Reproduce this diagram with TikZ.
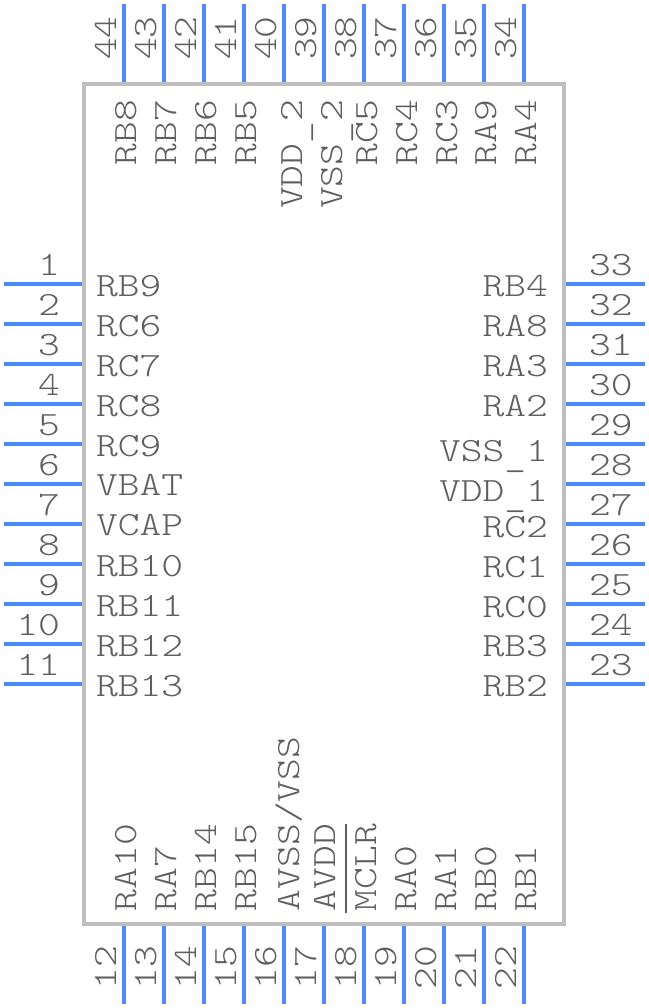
\documentclass[tikz,border=0pt]{standalone}
\usepackage{fontspec}
\newfontfamily\pinfont[FakeStretch=1.22]{Latin Modern Mono Light}
\newcommand\avsslabel{AVSS/VSS}
\newcommand\lowus{\raisebox{-5.5pt}{\_}}
\definecolor{pinblue}{HTML}{4A8CF7}
\definecolor{bodygray}{HTML}{BEBEBE}
\definecolor{txtgray}{HTML}{5F5F5F}
\tikzset{
  pinline/.style={draw=pinblue,line width=4pt},
  bodybox/.style={draw=bodygray,line width=4pt,fill=white},
  lab/.style={inner sep=0pt,outer sep=0pt,text=txtgray,font=\pinfont\fontsize{34}{34}\selectfont},
  labw/.style={lab,anchor=base west},
  labe/.style={lab,anchor=base east},
  rotw/.style={lab,anchor=base west,rotate=90},
  rote/.style={lab,anchor=base east,rotate=90},
}
\begin{document}
\begin{tikzpicture}[x=1pt,y=-1pt]
\useasboundingbox (0,0) rectangle (648,1008);
\node[bodybox,minimum width=480pt,minimum height=840pt,inner sep=0pt,outer sep=0pt,anchor=north west] (body) at (84,84) {};
% left pins
\foreach \n/\ya/\na/\nm/\oy in {1/284/RB9/1/12,2/324/RC6/2/12,3/364/RC7/3/12,4/404/RC8/4/12,5/444/RC9/5/12,6/484/VBAT/6/11,7/524/VCAP/7/11,8/564/RB10/8/12,9/604/RB11/9/12,10/644/RB12/10/12,11/684/RB13/11/12}{
  \coordinate (a\n) at (4,\ya);
  \coordinate (b\n) at (82,\ya);
  \draw[pinline] (a\n) -- (b\n);
  \node[labe] (num\n) at (60,\ya-9) {\nm};
  \node[labw] (name\n) at (96,\ya+\oy) {\na};
}
% right pins
\foreach \n/\ya/\na/\oy in {33/284/RB4/12,32/324/RA8/12,31/364/RA3/12,30/404/RA2/12,29/444/VSS\lowus 1/17,28/484/VDD\lowus 1/17,27/524/RC2/13,26/564/RC1/13,25/604/RC0/13,24/644/RB3/12,23/684/RB2/12}{
  \coordinate (a\n) at (645,\ya);
  \coordinate (b\n) at (566,\ya);
  \draw[pinline] (a\n) -- (b\n);
  \node[labw] (num\n) at (589,\ya-9) {\n};
  \node[labe] (name\n) at (548,\ya+\oy) {\na};
}
% top pins
\foreach \n/\xa/\na/\oy in {44/124/RB8/12,43/164/RB7/12,42/204/RB6/12,41/244/RB5/12,40/284/VDD\lowus 2/18,39/324/VSS\lowus 2/18,38/364/RC5/13,37/404/RC4/13,36/444/RC3/13,35/484/RA9/12,34/524/RA4/12}{
  \coordinate (a\n) at (\xa,4);
  \coordinate (b\n) at (\xa,82);
  \draw[pinline] (a\n) -- (b\n);
  \node[rotw] (num\n) at (\xa-8,60) {\n};
  \node[rote] (name\n) at (\xa+\oy,100) {\na};
}
% bottom pins
\foreach \n/\xa/\na/\oy in {12/124/RA10/12,13/164/RA7/12,14/204/RB14/12,15/244/RB15/12,16/284/\avsslabel/15,17/324/AVDD/11,18/364/MCLR/12,19/404/RA0/12,20/444/RA1/12,21/484/RB0/12,22/524/RB1/12}{
  \coordinate (a\n) at (\xa,1004);
  \coordinate (b\n) at (\xa,926);
  \draw[pinline] (a\n) -- (b\n);
  \node[rotw] (num\n) at (\xa-8,989) {\n};
  \node[rotw] (name\n) at (\xa+\oy,911) {\na};
}
\coordinate (mclrA) at (346,824);
\coordinate (mclrB) at (346,913);
\draw[draw=txtgray,line width=2pt] (mclrA) -- (mclrB);
\end{tikzpicture}
\end{document}
